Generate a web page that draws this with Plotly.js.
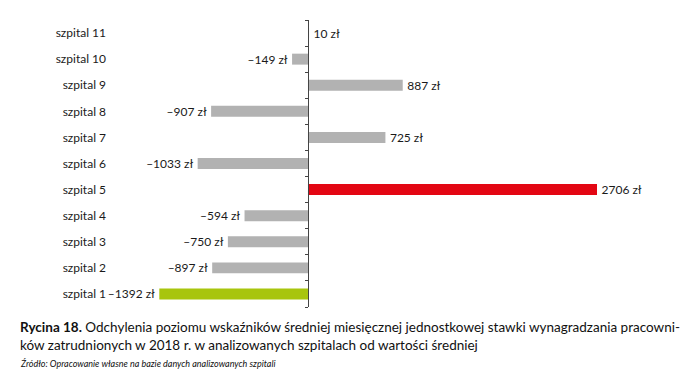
<!DOCTYPE html>
<html>
<head>
<meta charset="utf-8">
<script src="https://cdn.plot.ly/plotly-3.0.1.min.js"></script>
<style>html,body{margin:0;padding:0;background:#fff;}#chart{width:700px;height:383px;}</style>
</head>
<body>
<div id="chart"></div>
<script>
const categories = ['szpital 1','szpital 2','szpital 3','szpital 4','szpital 5','szpital 6','szpital 7','szpital 8','szpital 9','szpital 10','szpital 11'];
const values = [-1392, -897, -750, -594, 2706, -1033, 725, -907, 887, -149, 10];
const barColors = ['#a8c50d','#b2b2b2','#b2b2b2','#b2b2b2','#e30613','#b2b2b2','#b2b2b2','#b2b2b2','#b2b2b2','#b2b2b2','#b2b2b2'];
const valueLabels = values.map(v => v < 0 ? '\u2013' + Math.abs(v) + ' zł\u2009' : '\u2009' + v + ' zł');

const captionBold = 'Rycina 18.';
const captionLine1 = 'Odchylenia poziomu wskaźników średniej miesięcznej jednostkowej stawki wynagradzania pracowni-';
const captionLine2 = 'ków zatrudnionych w 2018 r. w analizowanych szpitalach od wartości średniej';
const sourceText = 'Źródło: Opracowanie własne na bazie danych analizowanych szpitali';

const xRange = [-1760, 3483];
const marginL = 120, marginR = 20, W = 700;
const plotW = W - marginL - marginR;
const zeroPos = (0 - xRange[0]) / (xRange[1] - xRange[0]);
const font = 'Lato, "Open Sans", sans-serif';

const traces = [
  {
    type: 'bar', orientation: 'h', y: categories, x: values,
    marker: {color: barColors},
    width: 0.42,
    text: valueLabels, textposition: 'outside', cliponaxis: false,
    constraintext: 'none',
    textfont: {family: font, size: 12, color: '#1a1a1a'},
    hoverinfo: 'skip', showlegend: false
  },
  {
    type: 'scatter', mode: 'none', y: categories, x: values.map(() => 0),
    yaxis: 'y2', hoverinfo: 'skip', showlegend: false
  }
];

const layout = {
  width: 700, height: 383,
  margin: {l: marginL, r: marginR, t: 20, b: 76},
  paper_bgcolor: '#fff', plot_bgcolor: '#fff',
  font: {family: font, color: '#1a1a1a'},
  showlegend: false,
  xaxis: {range: xRange, visible: false, fixedrange: true},
  yaxis: {
    type: 'category', categoryarray: categories, range: [-0.5, 10.5],
    showline: false, showgrid: false, zeroline: false, ticks: '',
    ticklabelstandoff: 13,
    tickfont: {family: font, size: 12, color: '#1a1a1a'}
  },
  yaxis2: {
    type: 'category', categoryarray: categories, range: [-0.5, 10.5],
    overlaying: 'y', anchor: 'free', position: zeroPos, side: 'left',
    showline: true, linecolor: '#444', linewidth: 1,
    ticks: 'outside', ticklen: 3, tickcolor: '#444', tickwidth: 1,
    tickson: 'boundaries', showticklabels: false, showgrid: false, zeroline: false
  },
  annotations: [
    {xref: 'paper', yref: 'paper', x: (18 - marginL) / plotW, y: -0.036, xanchor: 'left', yanchor: 'top',
     align: 'left', showarrow: false,
     text: '<b>' + captionBold + '</b> ' + captionLine1 + '<br>' + captionLine2,
     font: {family: font, size: 13.5, color: '#111'}},
    {xref: 'paper', yref: 'paper', x: (18 - marginL) / plotW, y: -0.171, xanchor: 'left', yanchor: 'top',
     align: 'left', showarrow: false,
     text: '<i>' + sourceText + '</i>',
     font: {family: font, size: 9, color: '#111'}}
  ]
};

Plotly.newPlot('chart', traces, layout, {staticPlot: true, displayModeBar: false});
</script>
</body>
</html>
